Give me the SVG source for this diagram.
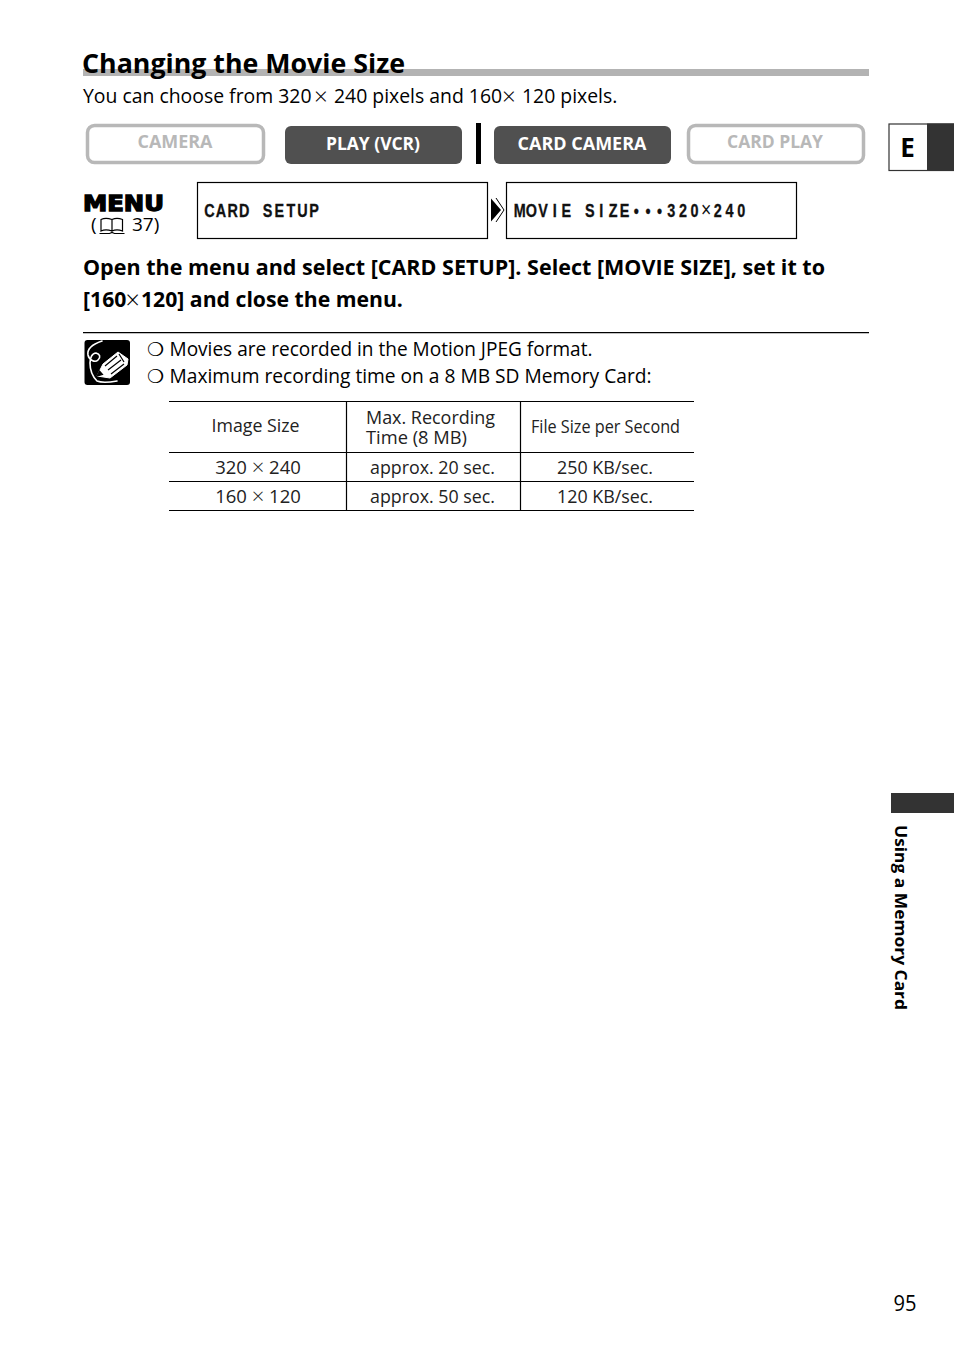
<svg xmlns="http://www.w3.org/2000/svg" width="954" height="1352" viewBox="0 0 954 1352">
<style>
text{font-family:"Open Sans","Noto Sans","Liberation Sans",sans-serif;fill:#000}
.b{font-weight:700}
.body{font-size:20px}
.cell{font-size:18.5px;text-anchor:middle;fill:#222}
.head{font-size:18px;fill:#222}
.off{fill:#fff;stroke:#b8b8b8;stroke-width:3.5}
.on{fill:#505050}
.offt{font-size:18px;font-weight:700;fill:#b8b8b8;text-anchor:middle}
.ont{font-size:18px;font-weight:700;fill:#fff;text-anchor:middle}
.lcd{font-family:"Liberation Sans",Arial,sans-serif;font-weight:700;font-size:18px;fill:#111;text-anchor:middle;stroke:#111;stroke-width:.3}
.box{fill:#fff;stroke:#000;stroke-width:1.2}
.rule{stroke:#000;stroke-width:1.2;fill:none}
.ic{stroke:#fff;fill:none;stroke-width:1.6;stroke-linecap:round;stroke-linejoin:round}
.x{font-weight:300}
.bul{font-family:"DejaVu Sans",sans-serif;font-size:19px}
</style>
<rect width="954" height="1352" fill="#fff"/>
<g id="title">
<rect x="83" y="69" width="786" height="7" fill="#b3b3b3"/>
<text class="b" x="82" y="73" font-size="27" textLength="323" lengthAdjust="spacingAndGlyphs">Changing the Movie Size</text>
<text x="83" y="103" font-size="19.400">You can choose from 320 <tspan class="x" x="314" y="105" font-size="24">×</tspan> <tspan x="334" y="103">240 pixels and 160 </tspan><tspan class="x" x="502" y="105" font-size="24">×</tspan> <tspan x="522" y="103">120 pixels.</tspan></text>
</g>
<g id="mode-camera"><rect class="off" x="87.500" y="125.500" width="176" height="37" rx="7"/><text class="offt" x="175" y="148" textLength="75" lengthAdjust="spacingAndGlyphs">CAMERA</text></g>
<g id="mode-play-vcr"><rect class="on" x="285" y="126" width="177" height="38" rx="6"/><text class="ont" x="373" y="150" textLength="94" lengthAdjust="spacingAndGlyphs">PLAY (VCR)</text></g>
<rect x="476" y="123" width="5" height="41" fill="#000"/>
<g id="mode-card-camera"><rect class="on" x="494" y="126" width="177" height="38" rx="6"/><text class="ont" x="582" y="150" textLength="129" lengthAdjust="spacingAndGlyphs">CARD CAMERA</text></g>
<g id="mode-card-play"><rect class="off" x="688.500" y="125.500" width="175" height="37" rx="7"/><text class="offt" x="775" y="148" textLength="96" lengthAdjust="spacingAndGlyphs">CARD PLAY</text></g>
<g id="tab-e">
<rect x="889" y="124" width="65" height="46.500" fill="#fff" stroke="#333" stroke-width="1.200"/>
<rect x="927" y="123.500" width="27" height="47.500" fill="#333"/>
<text class="b" x="907.500" y="157" font-size="26" text-anchor="middle">E</text>
</g>
<g id="menu-ref">
<text x="83" y="210.500" style="font-family:'DejaVu Sans',sans-serif;font-weight:900" font-size="21" stroke="#000" stroke-width="1.300" textLength="81" lengthAdjust="spacingAndGlyphs">MENU</text>
<text x="91" y="231" font-size="19">(</text>
<g fill="none" stroke="#000" stroke-width="1.200"><path d="M101 219.500c3-1.500 7-1.500 11 0v11.500c-4-1.500-8-1.500-11 0zM112 219.500c3-1.500 7-1.500 10.500 0v11.500c-3.500-1.500-7.500-1.500-10.500 0z"/><path d="M99.500 233.500h10l2.500-1 2.500 1h10"/></g>
<text x="132" y="231" font-size="19">37)</text>
</g>
<g id="menu-card-setup"><rect class="box" x="197.500" y="182.500" width="290" height="56"/><text class="lcd" transform="translate(203.500,217) scale(.8,1)" x="7.300 21.800 36.400 51 65.500 80.100 94.700 109.200 123.800 138.300" y="0">CARD SETUP</text></g>
<g id="connectors">
<path d="M491 198.500l10 11.500-10 11.500z" fill="#000"/>
<path d="M496 198l8 12-8 12" fill="none" stroke="#000" stroke-width="1"/>
</g>
<g id="menu-movie-size"><rect class="box" x="506.500" y="182.500" width="290" height="56"/><text class="lcd" transform="translate(514,217) scale(.8,1)" x="7.300 21.800 36.400 51 65.500 80.100 94.700 109.200 123.800 138.300 152.900 167.500 182 196.600 211.200 225.700 240.300 254.800 269.400 284" y="0">MOVIE SIZE<tspan>•••</tspan>320<tspan font-weight="400" font-size="22" stroke="none">×</tspan>240</text></g>
<g id="instruction">
<text class="b" x="83" y="275" font-size="22" textLength="742" lengthAdjust="spacingAndGlyphs">Open the menu and select [CARD SETUP]. Select [MOVIE SIZE], set it to</text>
<text class="b" x="83" y="307" font-size="21.200">[160<tspan class="x" x="125.500" y="309" font-size="25">×</tspan><tspan x="141" y="307">120] and close the menu.</tspan></text>
</g>
<path class="rule" d="M83 332.600H869"/>
<g id="note-icon">
<rect x="84.500" y="340" width="45.500" height="45" rx="3" fill="#000"/>
<path class="ic" d="M102 341C93 344 87 349 88 355c1 5 7 8 10 5 3-3 2-6-2-7-4 0-6 5-6 10 0 7 3 14 7 18 5 2 14 1 20 0"/>
<path d="M97 376l6-12 15-12 10 7-1 6-17 13z" fill="#fff" stroke="#fff" stroke-width="1" stroke-linejoin="round"/>
<path d="M97 376l2.500-5 3 3.500zM105 366l12-10M108 370l13-10M111 374l13-10M119 354l5 8" fill="#000" stroke="#000" stroke-width="1.200"/>
</g>
<g id="notes">
<text class="bul" x="147" y="356">❍</text>
<text class="body" x="169.500" y="356" textLength="423" lengthAdjust="spacingAndGlyphs">Movies are recorded in the Motion JPEG format.</text>
<text class="bul" x="147" y="383">❍</text>
<text class="body" x="169.500" y="383" textLength="482" lengthAdjust="spacingAndGlyphs">Maximum recording time on a 8 MB SD Memory Card:</text>
</g>
<g id="table">
<path class="rule" d="M169 401.500H694M169 452.500H694M169 481.500H694M169 510.500H694M346.500 401V511M520.500 401V511"/>
<text class="head" x="255.500" y="432" text-anchor="middle" textLength="88" lengthAdjust="spacingAndGlyphs">Image Size</text>
<text class="head" x="366" y="424" textLength="129" lengthAdjust="spacingAndGlyphs">Max. Recording</text>
<text class="head" x="366" y="444" textLength="101" lengthAdjust="spacingAndGlyphs">Time (8 MB)</text>
<text class="head" x="531" y="433" textLength="149" lengthAdjust="spacingAndGlyphs">File Size per Second</text>
<text class="cell" x="258" y="474">320 <tspan class="x" font-size="22" dy="1">×</tspan><tspan dy="-1"> 240</tspan></text>
<text class="cell" x="432.500" y="474" textLength="125" lengthAdjust="spacingAndGlyphs">approx. 20 sec.</text>
<text class="cell" x="605" y="474" textLength="96" lengthAdjust="spacingAndGlyphs">250 KB/sec.</text>
<text class="cell" x="258" y="503">160 <tspan class="x" font-size="22" dy="1">×</tspan><tspan dy="-1"> 120</tspan></text>
<text class="cell" x="432.500" y="503" textLength="125" lengthAdjust="spacingAndGlyphs">approx. 50 sec.</text>
<text class="cell" x="605" y="503" textLength="96" lengthAdjust="spacingAndGlyphs">120 KB/sec.</text>
</g>
<g id="side-tab">
<rect x="891" y="793" width="63" height="20" fill="#333"/>
<text class="b" transform="translate(895,825) rotate(90)" font-size="16" textLength="185" lengthAdjust="spacingAndGlyphs">Using a Memory Card</text>
</g>
<text id="page-number" x="893.500" y="1311" font-size="21" textLength="23" lengthAdjust="spacingAndGlyphs">95</text>
</svg>
